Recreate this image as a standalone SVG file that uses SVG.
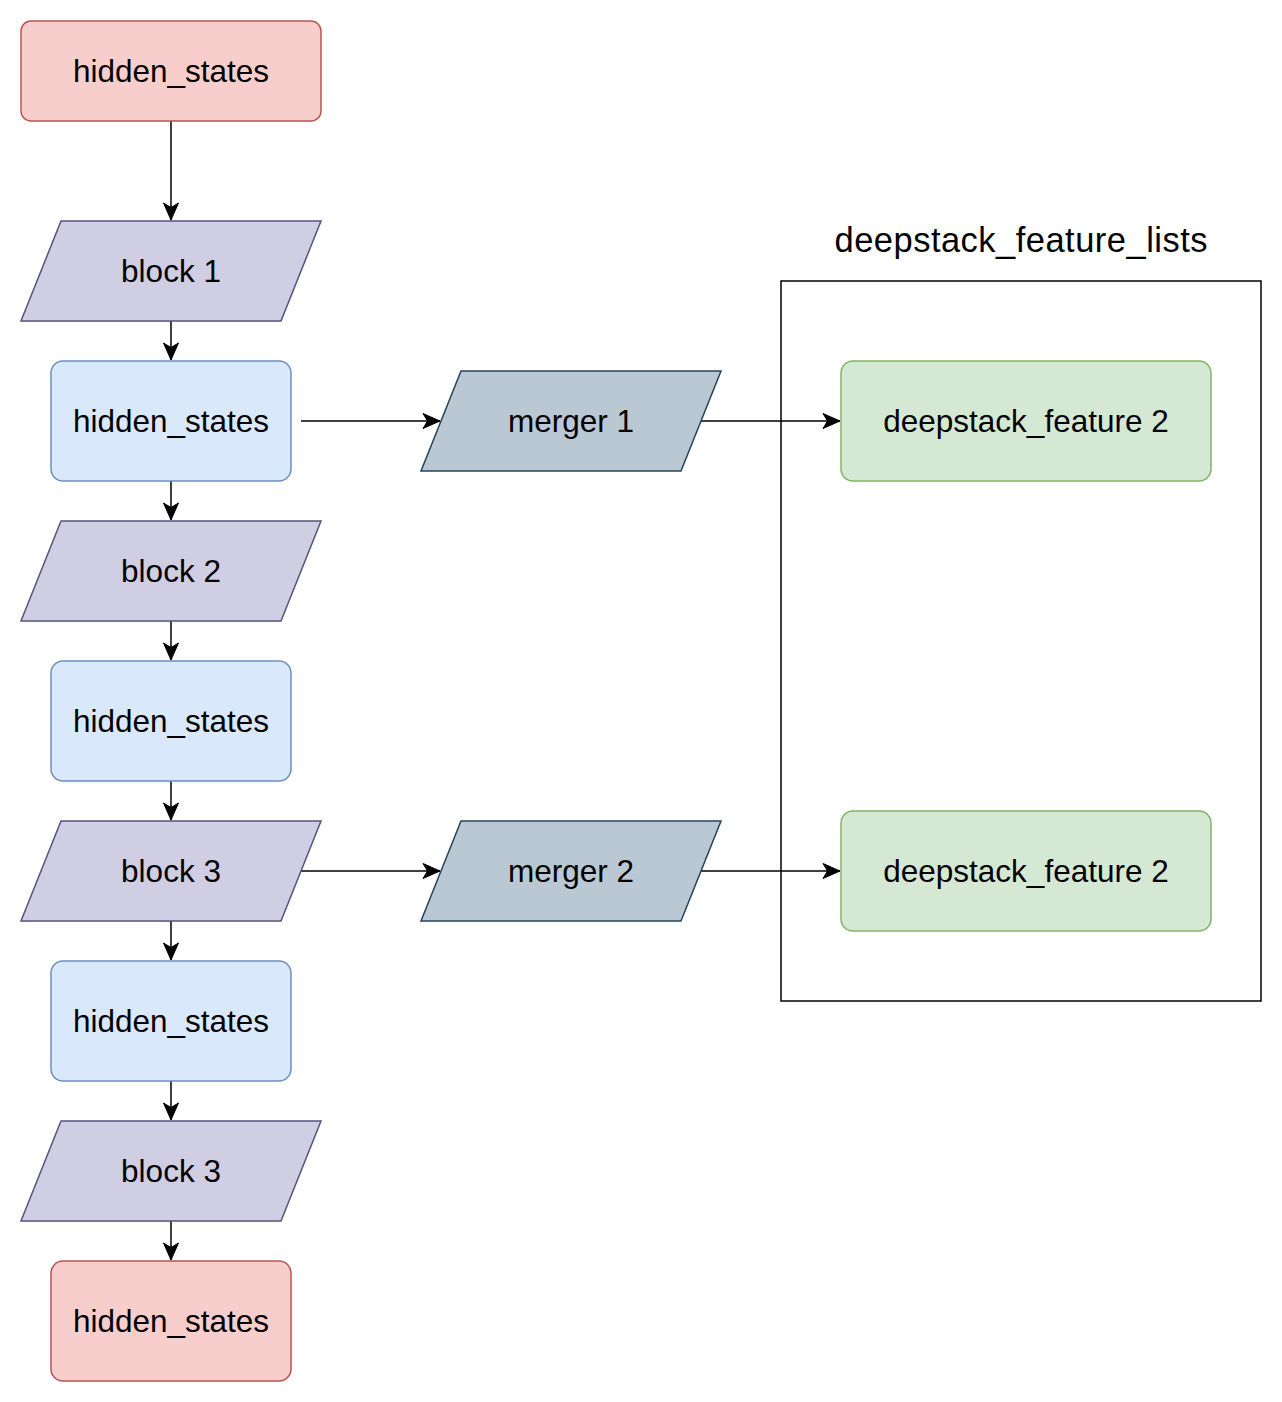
<svg xmlns="http://www.w3.org/2000/svg" width="1282" height="1402" viewBox="0 0 1282 1402">
<defs>
<style>
.t{font-family:"Liberation Sans",Arial,Helvetica,sans-serif;font-size:31.5px;fill:#000;text-anchor:middle}
.title{font-size:34.5px}
.red{fill:#f8cecc;stroke:#b85450;stroke-width:1.5}
.blue{fill:#dae8fc;stroke:#6c8ebf;stroke-width:1.5}
.blk{fill:#d0cee2;stroke:#56517e;stroke-width:1.5}
.mrg{fill:#bac8d3;stroke:#23445d;stroke-width:1.5}
.grn{fill:#d5e8d4;stroke:#82b366;stroke-width:1.5}
.edge{fill:none;stroke:#000;stroke-width:1.5}
</style>
<marker id="arr" markerUnits="userSpaceOnUse" viewBox="-18 -8 19 16" refX="0" refY="0" markerWidth="19" markerHeight="16" orient="auto">
<path d="M0,0 L-17,-7.5 L-12.5,0 L-17,7.5 Z" fill="#000" stroke="#000" stroke-width="1"/>
</marker>
</defs>
<rect width="1282" height="1402" fill="#fff"/>

<g id="container">
<rect x="781" y="281" width="480" height="720" fill="none" stroke="#000" stroke-width="1.5"/>
<text class="t title" x="1021" y="251.5" textLength="373" lengthAdjust="spacing">deepstack_feature_lists</text>
</g>

<g id="connectors">
<line class="edge" x1="171" y1="121" x2="171" y2="220" marker-end="url(#arr)"/>
<line class="edge" x1="171" y1="321" x2="171" y2="360" marker-end="url(#arr)"/>
<line class="edge" x1="171" y1="481" x2="171" y2="520" marker-end="url(#arr)"/>
<line class="edge" x1="171" y1="621" x2="171" y2="660" marker-end="url(#arr)"/>
<line class="edge" x1="171" y1="781" x2="171" y2="820" marker-end="url(#arr)"/>
<line class="edge" x1="171" y1="921" x2="171" y2="960" marker-end="url(#arr)"/>
<line class="edge" x1="171" y1="1081" x2="171" y2="1120" marker-end="url(#arr)"/>
<line class="edge" x1="171" y1="1221" x2="171" y2="1260" marker-end="url(#arr)"/>
<line class="edge" x1="301" y1="421" x2="440" y2="421" marker-end="url(#arr)"/>
<line class="edge" x1="701" y1="421" x2="840" y2="421" marker-end="url(#arr)"/>
<line class="edge" x1="301" y1="871" x2="440" y2="871" marker-end="url(#arr)"/>
<line class="edge" x1="701" y1="871" x2="840" y2="871" marker-end="url(#arr)"/>
</g>

<g id="hs_in">
<rect class="red" x="21" y="21" width="300" height="100" rx="10"/>
<text class="t" x="171" y="81.5">hidden_states</text>
</g>
<g id="block1">
<polygon class="blk" points="61,221 321,221 281,321 21,321"/>
<text class="t" x="171" y="281.5">block 1</text>
</g>
<g id="hs1">
<rect class="blue" x="51" y="361" width="240" height="120" rx="12"/>
<text class="t" x="171" y="431.5">hidden_states</text>
</g>
<g id="block2">
<polygon class="blk" points="61,521 321,521 281,621 21,621"/>
<text class="t" x="171" y="581.5">block 2</text>
</g>
<g id="hs2">
<rect class="blue" x="51" y="661" width="240" height="120" rx="12"/>
<text class="t" x="171" y="731.5">hidden_states</text>
</g>
<g id="block3">
<polygon class="blk" points="61,821 321,821 281,921 21,921"/>
<text class="t" x="171" y="881.5">block 3</text>
</g>
<g id="hs3">
<rect class="blue" x="51" y="961" width="240" height="120" rx="12"/>
<text class="t" x="171" y="1031.5">hidden_states</text>
</g>
<g id="block4">
<polygon class="blk" points="61,1121 321,1121 281,1221 21,1221"/>
<text class="t" x="171" y="1181.5">block 3</text>
</g>
<g id="hs_out">
<rect class="red" x="51" y="1261" width="240" height="120" rx="12"/>
<text class="t" x="171" y="1331.5">hidden_states</text>
</g>
<g id="merger1">
<polygon class="mrg" points="461,371 721,371 681,471 421,471"/>
<text class="t" x="571" y="431.5">merger 1</text>
</g>
<g id="merger2">
<polygon class="mrg" points="461,821 721,821 681,921 421,921"/>
<text class="t" x="571" y="881.5">merger 2</text>
</g>
<g id="feat1">
<rect class="grn" x="841" y="361" width="370" height="120" rx="12"/>
<text class="t" x="1026" y="431.5">deepstack_feature 2</text>
</g>
<g id="feat2">
<rect class="grn" x="841" y="811" width="370" height="120" rx="12"/>
<text class="t" x="1026" y="881.5">deepstack_feature 2</text>
</g>
</svg>
